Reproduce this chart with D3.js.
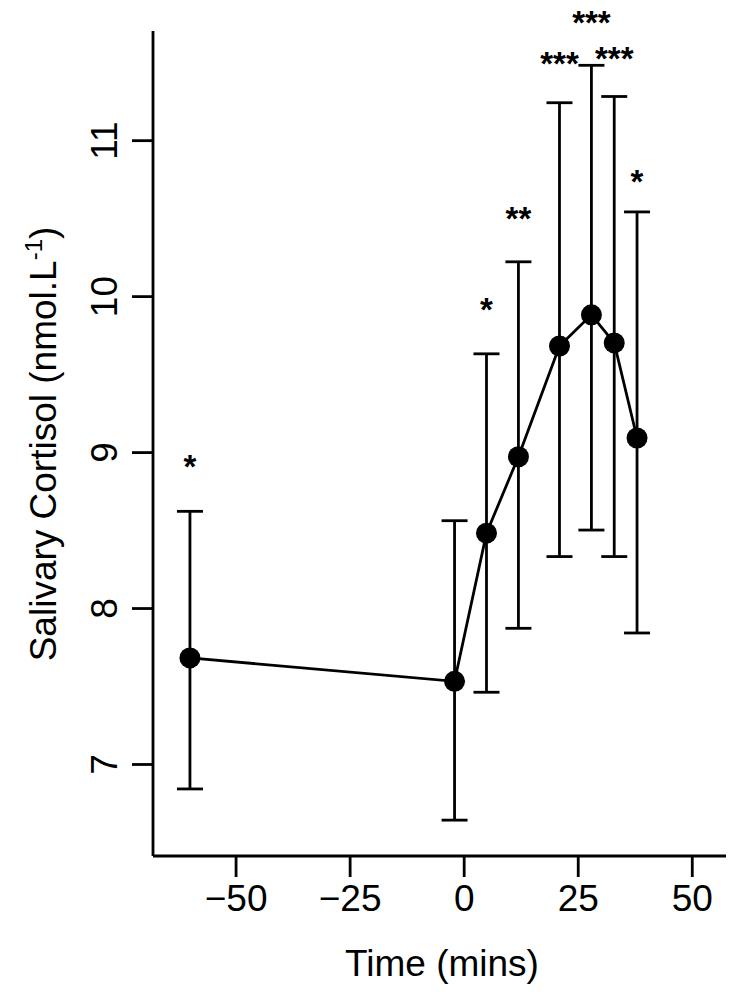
<!DOCTYPE html>
<html lang="en">
<head>
    <meta charset="utf-8" />
    <title>Salivary cortisol</title>
    <script src="https://d3js.org/d3.v7.min.js"></script>
    <style>
        body { margin: 0; background: #fff; }
        text { font-family: "Liberation Sans", Arial, sans-serif; fill: #000; }
    </style>
</head>
<body>
    <div id="chart"></div>
    <script>
        // values
        const times = [-60, -2, 5, 12, 21, 28, 33, 38];
        const means = [7.68, 7.53, 8.48, 8.97, 9.68, 9.88, 9.70, 9.09];
        const upper = [8.62, 8.56, 9.63, 10.22, 11.24, 11.48, 11.28, 10.54];
        const lower = [6.84, 6.64, 7.46, 7.87, 8.33, 8.50, 8.33, 7.84];
        const stars = ["*", "", "*", "**", "***", "***", "***", "*"];
        const starLevel = [8.94, null, 9.95, 10.53, 11.53, 11.79, 11.56, 10.77];
        const xTicks = [-50, -25, 0, 25, 50];
        const yTicks = [7, 8, 9, 10, 11];

        const rows = times.map((t, i) => ({
            t: t, m: means[i], hi: upper[i], lo: lower[i], s: stars[i], sy: starLevel[i]
        }));

        const W = 735, H = 997;
        const plotL = 153, plotR = 726, plotT = 31, plotB = 856;
        const fs = 37;

        const svg = d3.select("#chart").append("svg")
            .attr("width", W)
            .attr("height", H);

        const x = d3.scaleLinear().domain([-68.1, 57.5]).range([plotL, plotR]);
        const y = d3.scaleLinear().domain([6.41, 11.70]).range([plotB, plotT]);

        // axes (R style, bty = "l")
        const xAxis = svg.append("g")
            .attr("transform", `translate(0,${plotB})`)
            .call(d3.axisBottom(x).tickValues(xTicks).tickSize(21).tickPadding(8)
                .tickFormat(d => d < 0 ? "\u2212" + Math.abs(d) : d));
        xAxis.select(".domain").attr("d", `M${plotL},0H${plotR}`);

        const yAxis = svg.append("g")
            .attr("transform", `translate(${plotL},0)`)
            .call(d3.axisLeft(y).tickValues(yTicks).tickSize(21).tickFormat(d3.format("d")));
        yAxis.select(".domain").attr("d", `M0,${plotT}V${plotB}`);

        svg.selectAll(".domain, .tick line")
            .attr("stroke", "#000")
            .attr("stroke-width", 2.8);

        xAxis.selectAll("text")
            .style("font-size", fs + "px");

        // y tick labels run vertically, as in base R
        yAxis.selectAll(".tick text")
            .style("font-size", fs + "px")
            .attr("x", null).attr("dy", null)
            .attr("text-anchor", "middle")
            .attr("transform", "translate(-36,0) rotate(-90)");

        // axis titles
        svg.append("text")
            .attr("x", 442)
            .attr("y", 976)
            .attr("text-anchor", "middle")
            .style("font-size", fs + "px")
            .text("Time (mins)");

        const yt = svg.append("text")
            .attr("transform", "translate(56,444) rotate(-90)")
            .attr("text-anchor", "middle")
            .style("font-size", fs + "px");
        yt.append("tspan").text("Salivary Cortisol (nmol.L");
        yt.append("tspan").attr("dy", -14).style("font-size", "24px").text("-1");
        yt.append("tspan").attr("dy", 14).text(")");

        // error bars
        const cap = 13;
        const bars = svg.append("g")
            .attr("stroke", "#000")
            .attr("stroke-width", 2.8);
        bars.selectAll(".whisker")
            .data(rows).join("line")
            .attr("class", "whisker")
            .attr("x1", d => x(d.t)).attr("x2", d => x(d.t))
            .attr("y1", d => y(d.hi)).attr("y2", d => y(d.lo));
        bars.selectAll(".capHi")
            .data(rows).join("line")
            .attr("class", "capHi")
            .attr("x1", d => x(d.t) - cap).attr("x2", d => x(d.t) + cap)
            .attr("y1", d => y(d.hi)).attr("y2", d => y(d.hi));
        bars.selectAll(".capLo")
            .data(rows).join("line")
            .attr("class", "capLo")
            .attr("x1", d => x(d.t) - cap).attr("x2", d => x(d.t) + cap)
            .attr("y1", d => y(d.lo)).attr("y2", d => y(d.lo));

        // mean line and points
        const line = d3.line().x(d => x(d.t)).y(d => y(d.m));
        svg.append("path")
            .datum(rows)
            .attr("d", line)
            .attr("fill", "none")
            .attr("stroke", "#000")
            .attr("stroke-width", 2.8);

        svg.selectAll(".pt")
            .data(rows).join("circle")
            .attr("class", "pt")
            .attr("cx", d => x(d.t))
            .attr("cy", d => y(d.m))
            .attr("r", 10.5)
            .attr("fill", "#000");

        // significance markers
        svg.selectAll(".sig")
            .data(rows.filter(d => d.s))
            .join("text")
            .attr("class", "sig")
            .attr("x", d => x(d.t))
            .attr("y", d => y(d.sy) + 17)
            .attr("text-anchor", "middle")
            .style("font-size", "33px")
            .style("font-weight", "bold")
            .text(d => d.s);
    </script>
</body>
</html>
